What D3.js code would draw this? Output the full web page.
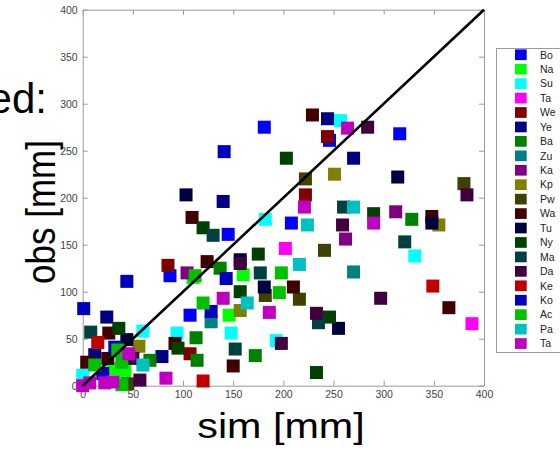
<!DOCTYPE html>
<html>
<head>
<meta charset="utf-8">
<script src="https://cdn.jsdelivr.net/npm/d3@7"></script>
<style>
  body { margin: 0; background: #fff; }
  text { font-family: "Liberation Sans", Arial, sans-serif; }
</style>
</head>
<body>
<script>
// series names and colours, in legend order
const names = ["Bo", "Na", "Su", "Ta", "We", "Ye", "Ba", "Zu", "Ka", "Kp", "Pw",
  "Wa", "Tu", "Ny", "Ma", "Da", "Ke", "Ko", "Ac", "Pa", "Ta"];
const colors = ["#0000ff", "#00ff00", "#00ffff", "#ff00ff", "#800000", "#000080",
  "#008000", "#008080", "#800080", "#808000", "#404000", "#400000", "#000040",
  "#004000", "#004040", "#400040", "#c00000", "#0000c0", "#00c000", "#00c0c0", "#c000c0"];

// [sim, obs] pairs for each station
const ptsBo = [[181, 275], [246, 261], [316, 268], [145, 161], [208, 173], [87, 117], [107, 75]];
const ptsNa = [[160, 118], [146, 75], [110, 115], [42, 15], [30, 18]];
const ptsSu = [[257, 282], [182, 177], [331, 138], [60, 58], [94, 56], [148, 56], [0, 11], [193, 48]];
const ptsTa1 = [[202, 146], [388, 66]];
const ptsWe = [[244, 265], [222, 203], [85, 128], [107, 34]];
const ptsYe = [[244, 284], [270, 242], [140, 196], [24, 73], [79, 31], [12, 33]];
const ptsBa = [[328, 177], [137, 125], [113, 51], [114, 27], [172, 32], [67, 27]];
const ptsZu = [[270, 121], [128, 68]];
const ptsKa = [[262, 156], [312, 185], [104, 120]];
const ptsKp = [[251, 225], [355, 171], [157, 80], [56, 42]];
const ptsPw = [[222, 220], [380, 215], [241, 144], [216, 92], [182, 96], [45, 2]];
const ptsWa = [[229, 288], [109, 179], [124, 132], [210, 105], [348, 180], [365, 83],
  [92, 45], [150, 21], [26, 56], [4, 25], [25, 29]];
const ptsTu = [[314, 222], [103, 203], [181, 105], [348, 173], [255, 61], [157, 134], [44, 49]];
const ptsNy = [[203, 242], [120, 168], [175, 140], [157, 100], [290, 183], [246, 73],
  [233, 14], [36, 61], [95, 40]];
const ptsMa = [[130, 160], [321, 153], [177, 120], [235, 67], [152, 39], [8, 57], [260, 190]];
const ptsDa = [[284, 275], [383, 203], [259, 171], [297, 93], [157, 130], [198, 45],
  [233, 77], [57, 6], [50, 29]];
const ptsKe = [[349, 106], [15, 46], [120, 5]];
const ptsKo = [[141, 249], [44, 111], [1, 82], [143, 114], [128, 79], [32, 41], [20, 13]];
const ptsAc = [[198, 120], [196, 99], [120, 88], [112, 117], [35, 38], [39, 25], [12, 22], [39, 1]];
const ptsPa = [[224, 171], [270, 190], [216, 129], [164, 88], [60, 22]];
const ptsTa2 = [[264, 274], [221, 190], [290, 173], [186, 78], [140, 93], [83, 8],
  [46, 34], [7, 3], [22, 3], [30, 4], [0, 0]];

const allPts = [ptsBo, ptsNa, ptsSu, ptsTa1, ptsWe, ptsYe, ptsBa, ptsZu, ptsKa, ptsKp, ptsPw,
  ptsWa, ptsTu, ptsNy, ptsMa, ptsDa, ptsKe, ptsKo, ptsAc, ptsPa, ptsTa2];
const ticks = [0, 50, 100, 150, 200, 250, 300, 350, 400];

const W = 560, H = 449;
const S = 1.18; // axis titles are stretched sideways

const svg = d3.select("body").append("svg").attr("width", W).attr("height", H);

const x = d3.scaleLinear().domain([0, 400]).range([82.7, 484]);
const y = d3.scaleLinear().domain([0, 400]).range([385.7, 9.7]);

const axisColor = "#9a9a9a";
function styleAxis(g, labels) {
  g.select(".domain").attr("stroke", axisColor);
  g.selectAll(".tick line").attr("stroke", axisColor);
  g.selectAll(".tick text")
    .attr("fill", labels ? "#444" : "none")
    .style("font-size", "10.5px");
}

svg.append("g").attr("transform", `translate(0,${y(0)})`)
  .call(d3.axisBottom(x).tickValues(ticks).tickSizeInner(-5).tickSizeOuter(0).tickPadding(5))
  .call(g => styleAxis(g, true));
svg.append("g").attr("transform", `translate(0,${y(400)})`)
  .call(d3.axisTop(x).tickValues(ticks).tickSizeInner(-5).tickSizeOuter(0).tickFormat(""))
  .call(g => styleAxis(g, false));
svg.append("g").attr("transform", `translate(${x(0)},0)`)
  .call(d3.axisLeft(y).tickValues(ticks).tickSizeInner(-5).tickSizeOuter(0).tickPadding(5))
  .call(g => styleAxis(g, true));
svg.append("g").attr("transform", `translate(${x(400)},0)`)
  .call(d3.axisRight(y).tickValues(ticks).tickSizeInner(-5).tickSizeOuter(0).tickFormat(""))
  .call(g => styleAxis(g, false));

// markers, series drawn in order so later ones sit on top
const M = 13;
allPts.forEach(function(pts, i) {
  svg.append("g")
    .selectAll("rect")
    .data(pts)
    .enter()
    .append("rect")
    .attr("x", d => x(d[0]) - M / 2)
    .attr("y", d => y(d[1]) - M / 2)
    .attr("width", M)
    .attr("height", M)
    .attr("fill", colors[i]);
});

// 1:1 line
svg.append("line")
  .attr("x1", x(0)).attr("y1", y(0))
  .attr("x2", x(400)).attr("y2", y(400))
  .attr("stroke", "#000")
  .attr("stroke-width", 2.6);

// legend
const leg = svg.append("g");
leg.append("rect")
  .attr("x", 496.5).attr("y", 48.5)
  .attr("width", 80).attr("height", 304)
  .attr("fill", "#fff")
  .attr("stroke", axisColor);
const item = leg.selectAll("g.item")
  .data(names)
  .enter()
  .append("g")
  .attr("transform", (d, i) => `translate(0,${54.7 + i * 14.44})`);
item.append("rect")
  .attr("x", 515).attr("y", -5.3)
  .attr("width", 11.7).attr("height", 10.7)
  .attr("fill", (d, i) => colors[i]);
item.append("text")
  .attr("x", 540).attr("y", 3.8)
  .style("font-size", "10.5px")
  .attr("fill", "#222")
  .text(d => d);

// axis titles
svg.append("text")
  .attr("transform", `translate(281,438) scale(${S},1)`)
  .attr("text-anchor", "middle")
  .style("font-size", "35px")
  .text("sim [mm]");
svg.append("text")
  .attr("transform", `translate(55,212) scale(${S},1) rotate(-90)`)
  .attr("text-anchor", "middle")
  .style("font-size", "35px")
  .text("obs [mm]");

// leftover of a slide caption, cut at the left edge
svg.append("text")
  .attr("x", 47)
  .attr("y", 113)
  .attr("text-anchor", "end")
  .style("font-size", "42px")
  .text("ed:");
</script>
</body>
</html>
